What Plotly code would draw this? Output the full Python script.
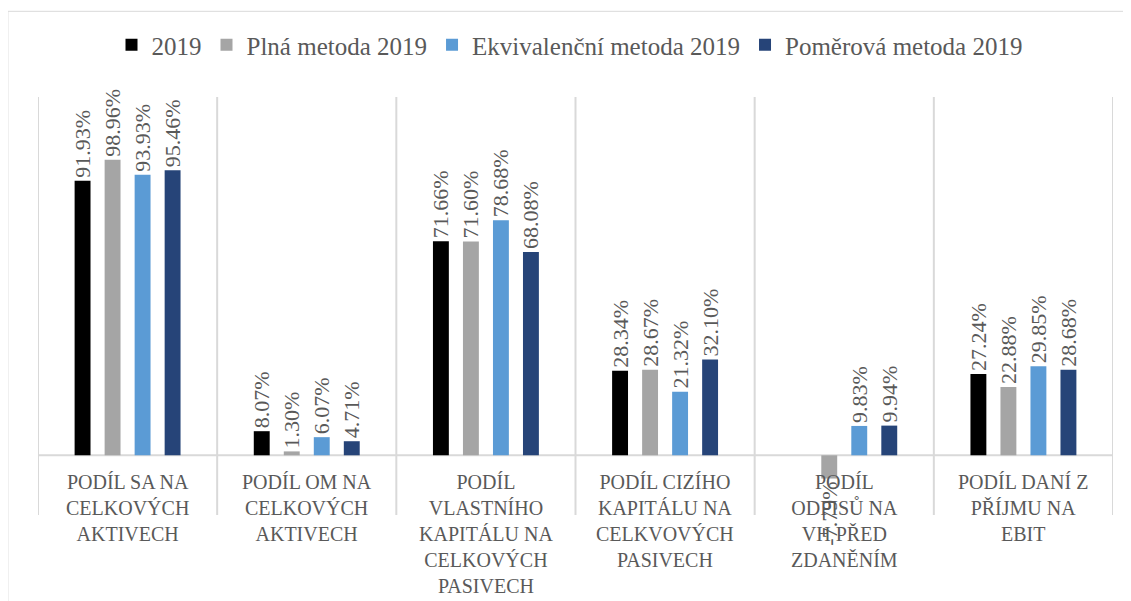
import plotly.graph_objects as go

categories = [
    "PODÍL SA NA<br>CELKOVÝCH<br>AKTIVECH",
    "PODÍL OM NA<br>CELKOVÝCH<br>AKTIVECH",
    "PODÍL<br>VLASTNÍHO<br>KAPITÁLU NA<br>CELKOVÝCH<br>PASIVECH",
    "PODÍL CIZÍHO<br>KAPITÁLU NA<br>CELKVOVÝCH<br>PASIVECH",
    "PODÍL<br>ODPISŮ NA<br>VH PŘED<br>ZDANĚNÍM",
    "PODÍL DANÍ Z<br>PŘÍJMU NA<br>EBIT",
]
series_names = ["2019", "Plná metoda 2019", "Ekvivalenční metoda 2019", "Poměrová metoda 2019"]
v2019 = [91.93, 8.07, 71.66, 28.34, None, 27.24]
plna = [98.96, 1.30, 71.60, 28.67, -7.79, 22.88]
ekviv = [93.93, 6.07, 78.68, 21.32, 9.83, 29.85]
pomer = [95.46, 4.71, 68.08, 32.10, 9.94, 28.68]
colors = ["#000000", "#A5A5A5", "#5B9BD5", "#264478"]

FONT = "'Liberation Serif', 'DejaVu Serif', serif"
TXT = "#595959"
x = list(range(len(categories)))

fig = go.Figure()
for name, vals, col in zip(series_names, [v2019, plna, ekviv, pomer], colors):
    fig.add_trace(go.Bar(
        x=x, y=vals, name=name, marker_color=col, marker_line_width=0,
        text=[None if v is None else f"{v:.2f}%" for v in vals],
        textposition="outside", textangle=-90, constraintext="none",
        textfont=dict(family=FONT, size=22, color=TXT),
        cliponaxis=False,
    ))

shapes = []
for b in [i - 0.5 for i in range(len(categories) + 1)]:
    shapes.append(dict(type="line", xref="x", yref="paper", x0=b, x1=b, y0=0, y1=1,
                       line=dict(color="#D9D9D9", width=2), layer="below"))
shapes.append(dict(type="line", xref="x", yref="y", x0=-0.5, x1=len(categories) - 0.5, y0=0, y1=0,
                   line=dict(color="#D9D9D9", width=2), layer="below"))
shapes.append(dict(type="rect", xref="paper", yref="paper", x0=-0.028, x1=1.05, y0=-0.3, y1=1.205,
                   line=dict(color="#D9D9D9", width=1)))

annotations = []
for i, c in enumerate(categories):
    annotations.append(dict(x=i, y=0, xref="x", yref="y", text=c, showarrow=False,
                            yanchor="top", yshift=-14, align="center",
                            font=dict(family=FONT, size=20, color=TXT)))

fig.update_layout(
    width=1123, height=593,
    margin=dict(l=30, r=18, t=89, b=86, autoexpand=False),
    paper_bgcolor="white", plot_bgcolor="white",
    barmode="group", bargap=0.33, bargroupgap=0.47,
    showlegend=True,
    legend=dict(orientation="h", x=0.5, xanchor="center", xref="container",
                y=0.9376, yanchor="middle", yref="container",
                font=dict(family=FONT, size=25, color=TXT),
                traceorder="normal"),
    xaxis=dict(range=[-0.5, len(categories) - 0.5], showticklabels=False, showgrid=False,
               zeroline=False, showline=False, ticks=""),
    yaxis=dict(range=[-20, 120], showticklabels=False, showgrid=False, zeroline=False,
               showline=False, ticks=""),
    shapes=shapes, annotations=annotations,
)

fig.write_html("out.html")
